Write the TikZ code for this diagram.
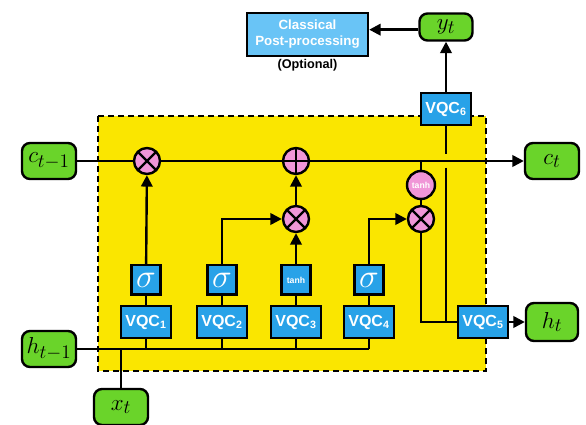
\documentclass[tikz,border=0pt]{standalone}
\usepackage{fontspec}
\usepackage{amsmath}
\usepackage{xcolor}
\usepackage{tikz}
\usetikzlibrary{arrows.meta,positioning,calc}
\newfontfamily\hv{Liberation Sans}
\definecolor{qyellow}{RGB}{250,230,0}
\definecolor{qblue}{RGB}{40,162,232}
\definecolor{qlight}{RGB}{105,196,246}
\definecolor{qgreen}{RGB}{106,212,42}
\definecolor{qpink}{RGB}{240,150,215}

\begin{document}
\begin{tikzpicture}[
  x=0.75pt,y=-0.75pt,
  vqc/.style={draw,line width=1.8pt,fill=qblue,text=white,font=\hv\bfseries\fontsize{12}{12}\selectfont,minimum width=37.5pt,minimum height=24pt,inner sep=0pt},
  act/.style={draw,line width=1.8pt,fill=qblue,text=white,minimum width=22pt,minimum height=22pt,inner sep=0pt},
  io/.style={draw,line width=1.8pt,fill=qgreen,rounded corners=6pt,minimum width=40.5pt,minimum height=27pt,inner sep=0pt,font=\fontsize{19}{19}\selectfont},
  op/.style={circle,draw,line width=1.8pt,fill=qpink,minimum size=19.5pt,inner sep=0pt},
  mul/.style={op,path picture={\draw[line width=1.8pt] (path picture bounding box.north west) -- (path picture bounding box.south east) (path picture bounding box.north east) -- (path picture bounding box.south west);}},
  add/.style={op,path picture={\draw[line width=1.8pt] (path picture bounding box.north) -- (path picture bounding box.south) (path picture bounding box.west) -- (path picture bounding box.east);}},
  ln/.style={line width=1.8pt},
  arr/.style={-{Triangle[length=8.5pt,width=8.5pt]},line width=1.8pt}
]
\useasboundingbox (0,0) rectangle (586,425);
\draw[line width=1.8pt,fill=qyellow,dash pattern=on 4.5pt off 3pt] (98,116) rectangle (486,371);

\node[vqc] (v1) at (146,322) {VQC\textsubscript{1}};
\node[vqc] (v2) at (222,322) {VQC\textsubscript{2}};
\node[vqc] (v3) at (296,322) {VQC\textsubscript{3}};
\node[vqc] (v4) at (369,322) {VQC\textsubscript{4}};
\node[vqc] (v5) at (483,322) {VQC\textsubscript{5}};
\node[vqc] (v6) at (446,109) {VQC\textsubscript{6}};
\node[act,above=6.75pt of v1] (s1) {\fontsize{30}{30}\selectfont$\sigma$};
\node[act,above=6.75pt of v2] (s2) {\fontsize{30}{30}\selectfont$\sigma$};
\node[act,above=6.75pt of v3,font=\hv\bfseries\fontsize{6.5}{6.5}\selectfont] (s3) {tanh};
\node[act,above=6.75pt of v4] (s4) {\fontsize{30}{30}\selectfont$\sigma$};

\node[mul] (m1) at (147,161) {};
\node[add] (pl) at (296,161) {};
\node[mul] (m2) at (296,219) {};
\node[mul] (m3) at (421,219) {};
\node[op,minimum size=21pt,text=white,font=\hv\bfseries\fontsize{6.5}{6.5}\selectfont] (tc) at (421,185) {tanh};

\node[io] (ct1) at (49,161) {$c_{t-1}$};
\node[io] (ht1) at (49,349) {$h_{t-1}$};
\node[io] (xt) at (121,407) {$x_t$};
\node[io] (ct) at (552,161) {$c_t$};
\node[io,minimum width=39pt,minimum height=28.5pt] (ht) at (552,322) {$h_t$};
\node[io,minimum width=39.75pt,minimum height=20.25pt] (yt) at (446,27) {$y_t$};
\node[draw,line width=1.8pt,fill=qlight,text=white,align=center,font=\hv\bfseries\fontsize{10}{12}\selectfont,minimum width=90.75pt,minimum height=32.25pt,inner sep=0pt] (post) at (307.5,34.5) {Classical\\Post-processing};
\node[below=1.5pt of post,inner sep=0pt,font=\hv\bfseries\fontsize{9.5}{10}\selectfont] (opt) {(Optional)};

\draw[arr] (ct1) -- (m1) -- (pl) -- (ct);
\draw[ln] (ht1) -- (v4 |- ht1);
\foreach \i in {1,...,4} {
  \draw[ln] (v\i) -- (s\i);
  \draw[ln] (v\i) -- (v\i |- ht1);
}
\draw[ln] (xt) -- (xt |- ht1);
\draw[arr] (s1) -- (m1);
\draw[arr] (s2) |- (m2);
\draw[arr] (s3) -- (m2);
\draw[arr] (m2) -- (pl);
\draw[arr] (s4) |- (m3);
\draw[ln] (tc) -- (tc |- pl);
\draw[ln] (tc) -- (m3);
\draw[ln] (m3) |- (v5);
\coordinate (gap) at (v6 |- pl);
\draw[ln] (v6) -- ([yshift=5pt]gap);
\draw[ln] ([yshift=-5pt]gap) -- (v6 |- v5);
\draw[arr] (v6) -- (yt);
\draw[arr] ([yshift=-2pt]yt.west) -- ([yshift=-2pt]yt.west -| post.east);
\draw[arr] (v5) -- (ht);
\end{tikzpicture}
\end{document}
